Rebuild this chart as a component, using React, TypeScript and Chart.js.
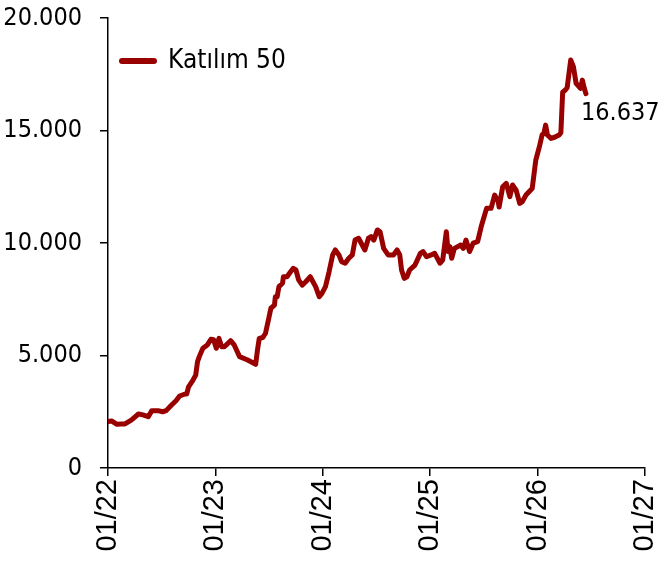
import { useEffect, useRef } from 'react';
import { Chart, registerables } from 'chart.js';

Chart.register(...registerables);

const seriesName = 'Katılım 50';
const lastLabel = '16.637';
const xTickLabels = ['01/22', '01/23', '01/24', '01/25', '01/26', '01/27'];
const yTickValues = [0, 5000, 10000, 15000, 20000];

// months since Jan 2022
const months = [
  0.0, 0.4, 1.0, 1.5, 1.9, 2.6, 3.4, 3.9, 4.5, 4.9, 5.6, 6.1, 6.5, 7.1, 7.6, 8.0, 8.6, 8.8, 9.0, 9.5,
  9.8, 10.0, 10.2, 10.6, 11.1, 11.5, 11.8, 12.1, 12.4, 12.7, 13.0, 13.4, 13.7, 14.1, 14.7, 15.6, 16.5, 16.7, 16.9, 17.3,
  17.6, 18.0, 18.2, 18.6, 18.7, 18.9, 19.1, 19.5, 19.6, 20.0, 20.4, 20.7, 21.0, 21.3, 21.7, 22.1, 22.6, 22.9, 23.2, 23.6,
  23.9, 24.3, 24.7, 25.1, 25.4, 25.8, 26.1, 26.5, 26.9, 27.3, 27.6, 28.0, 28.4, 28.7, 29.1, 29.4, 29.7, 30.1, 30.4, 30.8,
  31.3, 31.9, 32.3, 32.6, 32.8, 33.1, 33.4, 33.7, 34.3, 34.9, 35.2, 35.6, 36.1, 36.5, 37.1, 37.4, 37.8, 38.0, 38.2, 38.4,
  38.7, 39.1, 39.4, 39.7, 40.0, 40.4, 40.8, 41.3, 41.7, 42.3, 42.8, 43.2, 43.6, 43.7, 44.1, 44.5, 44.9, 45.2, 45.6, 46.0,
  46.3, 46.7, 47.1, 47.4, 47.8, 48.2, 48.5, 48.7, 48.9, 49.1, 49.5, 49.9, 50.4, 50.6, 50.8, 51.1, 51.3, 51.7, 52.0, 52.3,
  52.8, 53.0, 53.2, 53.4,
];

const values = [
  2060, 2090, 1940, 1960, 1960, 2130, 2400, 2360, 2280, 2550, 2550, 2500, 2550, 2800, 2990, 3200, 3290, 3290, 3610, 3910,
  4130, 4720, 4950, 5320, 5470, 5720, 5700, 5320, 5760, 5390, 5390, 5540, 5660, 5470, 4950, 4800, 4610, 5240, 5760, 5800,
  5990, 6720, 7100, 7240, 7610, 7610, 8060, 8210, 8500, 8500, 8720, 8870, 8800, 8360, 8130, 8280, 8500, 8280, 8060, 7610,
  7760, 8060, 8720, 9470, 9690, 9470, 9170, 9100, 9320, 9470, 10130, 10210, 9910, 9690, 10210, 10280, 10130, 10580, 10500, 9760,
  9470, 9470, 9690, 9470, 8800, 8430, 8500, 8800, 9020, 9540, 9620, 9390, 9470, 9540, 9100, 9250, 10500, 9620, 9840, 9320,
  9760, 9840, 9910, 9760, 10130, 9620, 9990, 10060, 10730, 11540, 11540, 12130, 11840, 11600, 12500, 12650, 12060, 12580, 12350, 11760,
  11840, 12130, 12300, 12430, 13690, 14280, 14800, 14870, 15240, 14800, 14650, 14700, 14800, 14900, 16700, 16800, 16900, 18130, 17840, 17100,
  16870, 17240, 16900, 16637,
];

const LINE_COLOR = '#990000';
const TAHOMA_LIKE = '"DejaVu Sans Condensed", "DejaVu Sans", sans-serif';
const ARIAL_LIKE = '"Liberation Sans", Arial, sans-serif';

const fmt = (v: number) => String(v).replace(/\B(?=(\d{3})+(?!\d))/g, '.');

const overlayPlugin = {
  id: 'overlayText',
  afterDraw(chart: any) {
    const { ctx, chartArea } = chart;
    ctx.save();
    // legend
    const ly = chartArea.top + 43;
    ctx.strokeStyle = LINE_COLOR;
    ctx.lineWidth = 6;
    ctx.lineCap = 'round';
    ctx.beginPath();
    ctx.moveTo(chartArea.left + 14, ly);
    ctx.lineTo(chartArea.left + 46, ly);
    ctx.stroke();
    ctx.fillStyle = '#000';
    ctx.font = `26px ${TAHOMA_LIKE}`;
    ctx.textBaseline = 'middle';
    ctx.textAlign = 'left';
    ctx.fillText(seriesName, chartArea.left + 60, ly);
    // end value label
    ctx.font = `25px ${TAHOMA_LIKE}`;
    const meta = chart.getDatasetMeta(0);
    const p = meta.data[meta.data.length - 1];
    ctx.fillText(lastLabel, p.x - 5, p.y + 20);
    ctx.restore();
  },
};

export default function App() {
  const ref = useRef<HTMLCanvasElement | null>(null);
  useEffect(() => {
    if (!ref.current) return;
    const chart = new Chart(ref.current, {
      type: 'line',
      data: {
        datasets: [
          {
            label: seriesName,
            data: months.map((m, i) => ({ x: m, y: values[i] })),
            borderColor: LINE_COLOR,
            backgroundColor: LINE_COLOR,
            borderWidth: 5,
            borderJoinStyle: 'round',
            borderCapStyle: 'round',
            pointRadius: 0,
            tension: 0,
            fill: false,
          },
        ],
      },
      options: {
        animation: false,
        responsive: true,
        maintainAspectRatio: false,
        layout: { padding: { top: 18, right: 17, left: 0, bottom: 0 } },
        plugins: { legend: { display: false }, tooltip: { enabled: false } },
        scales: {
          x: {
            type: 'linear',
            min: 0,
            max: 60,
            afterBuildTicks: (s: any) => {
              s.ticks = xTickLabels.map((_, i) => ({ value: i * 12 }));
            },
            afterFit: (s: any) => {
              s.height = 101;
              s.paddingLeft = 0;
              s.paddingRight = 0;
            },
            ticks: {
              autoSkip: false,
              maxRotation: 90,
              minRotation: 90,
              padding: 3,
              color: '#000',
              font: { family: ARIAL_LIKE, size: 29 },
              callback: (v: any) => xTickLabels[Math.round(Number(v) / 12)] ?? '',
            },
            grid: { display: true, drawOnChartArea: false, drawTicks: true, tickLength: 8, color: '#000', lineWidth: 1.5 },
            border: { display: true, color: '#000', width: 1.5 },
          },
          y: {
            min: 0,
            max: 20000,
            afterBuildTicks: (s: any) => {
              s.ticks = yTickValues.map((v) => ({ value: v }));
            },
            afterFit: (s: any) => {
              s.width = 108;
              s.paddingTop = 0;
              s.paddingBottom = 0;
            },
            ticks: {
              padding: 18,
              color: '#000',
              font: { family: TAHOMA_LIKE, size: 25 },
              callback: (v: any) => fmt(Number(v)),
            },
            grid: { display: true, drawOnChartArea: false, drawTicks: true, tickLength: 8, color: '#000', lineWidth: 1.5 },
            border: { display: true, color: '#000', width: 1.5 },
          },
        },
      },
      plugins: [overlayPlugin],
    });
    return () => chart.destroy();
  }, []);
  return (
    <div style={{ position: 'fixed', left: 0, top: 0, width: 662, height: 569, background: '#fff' }}>
      <canvas ref={ref} />
    </div>
  );
}
